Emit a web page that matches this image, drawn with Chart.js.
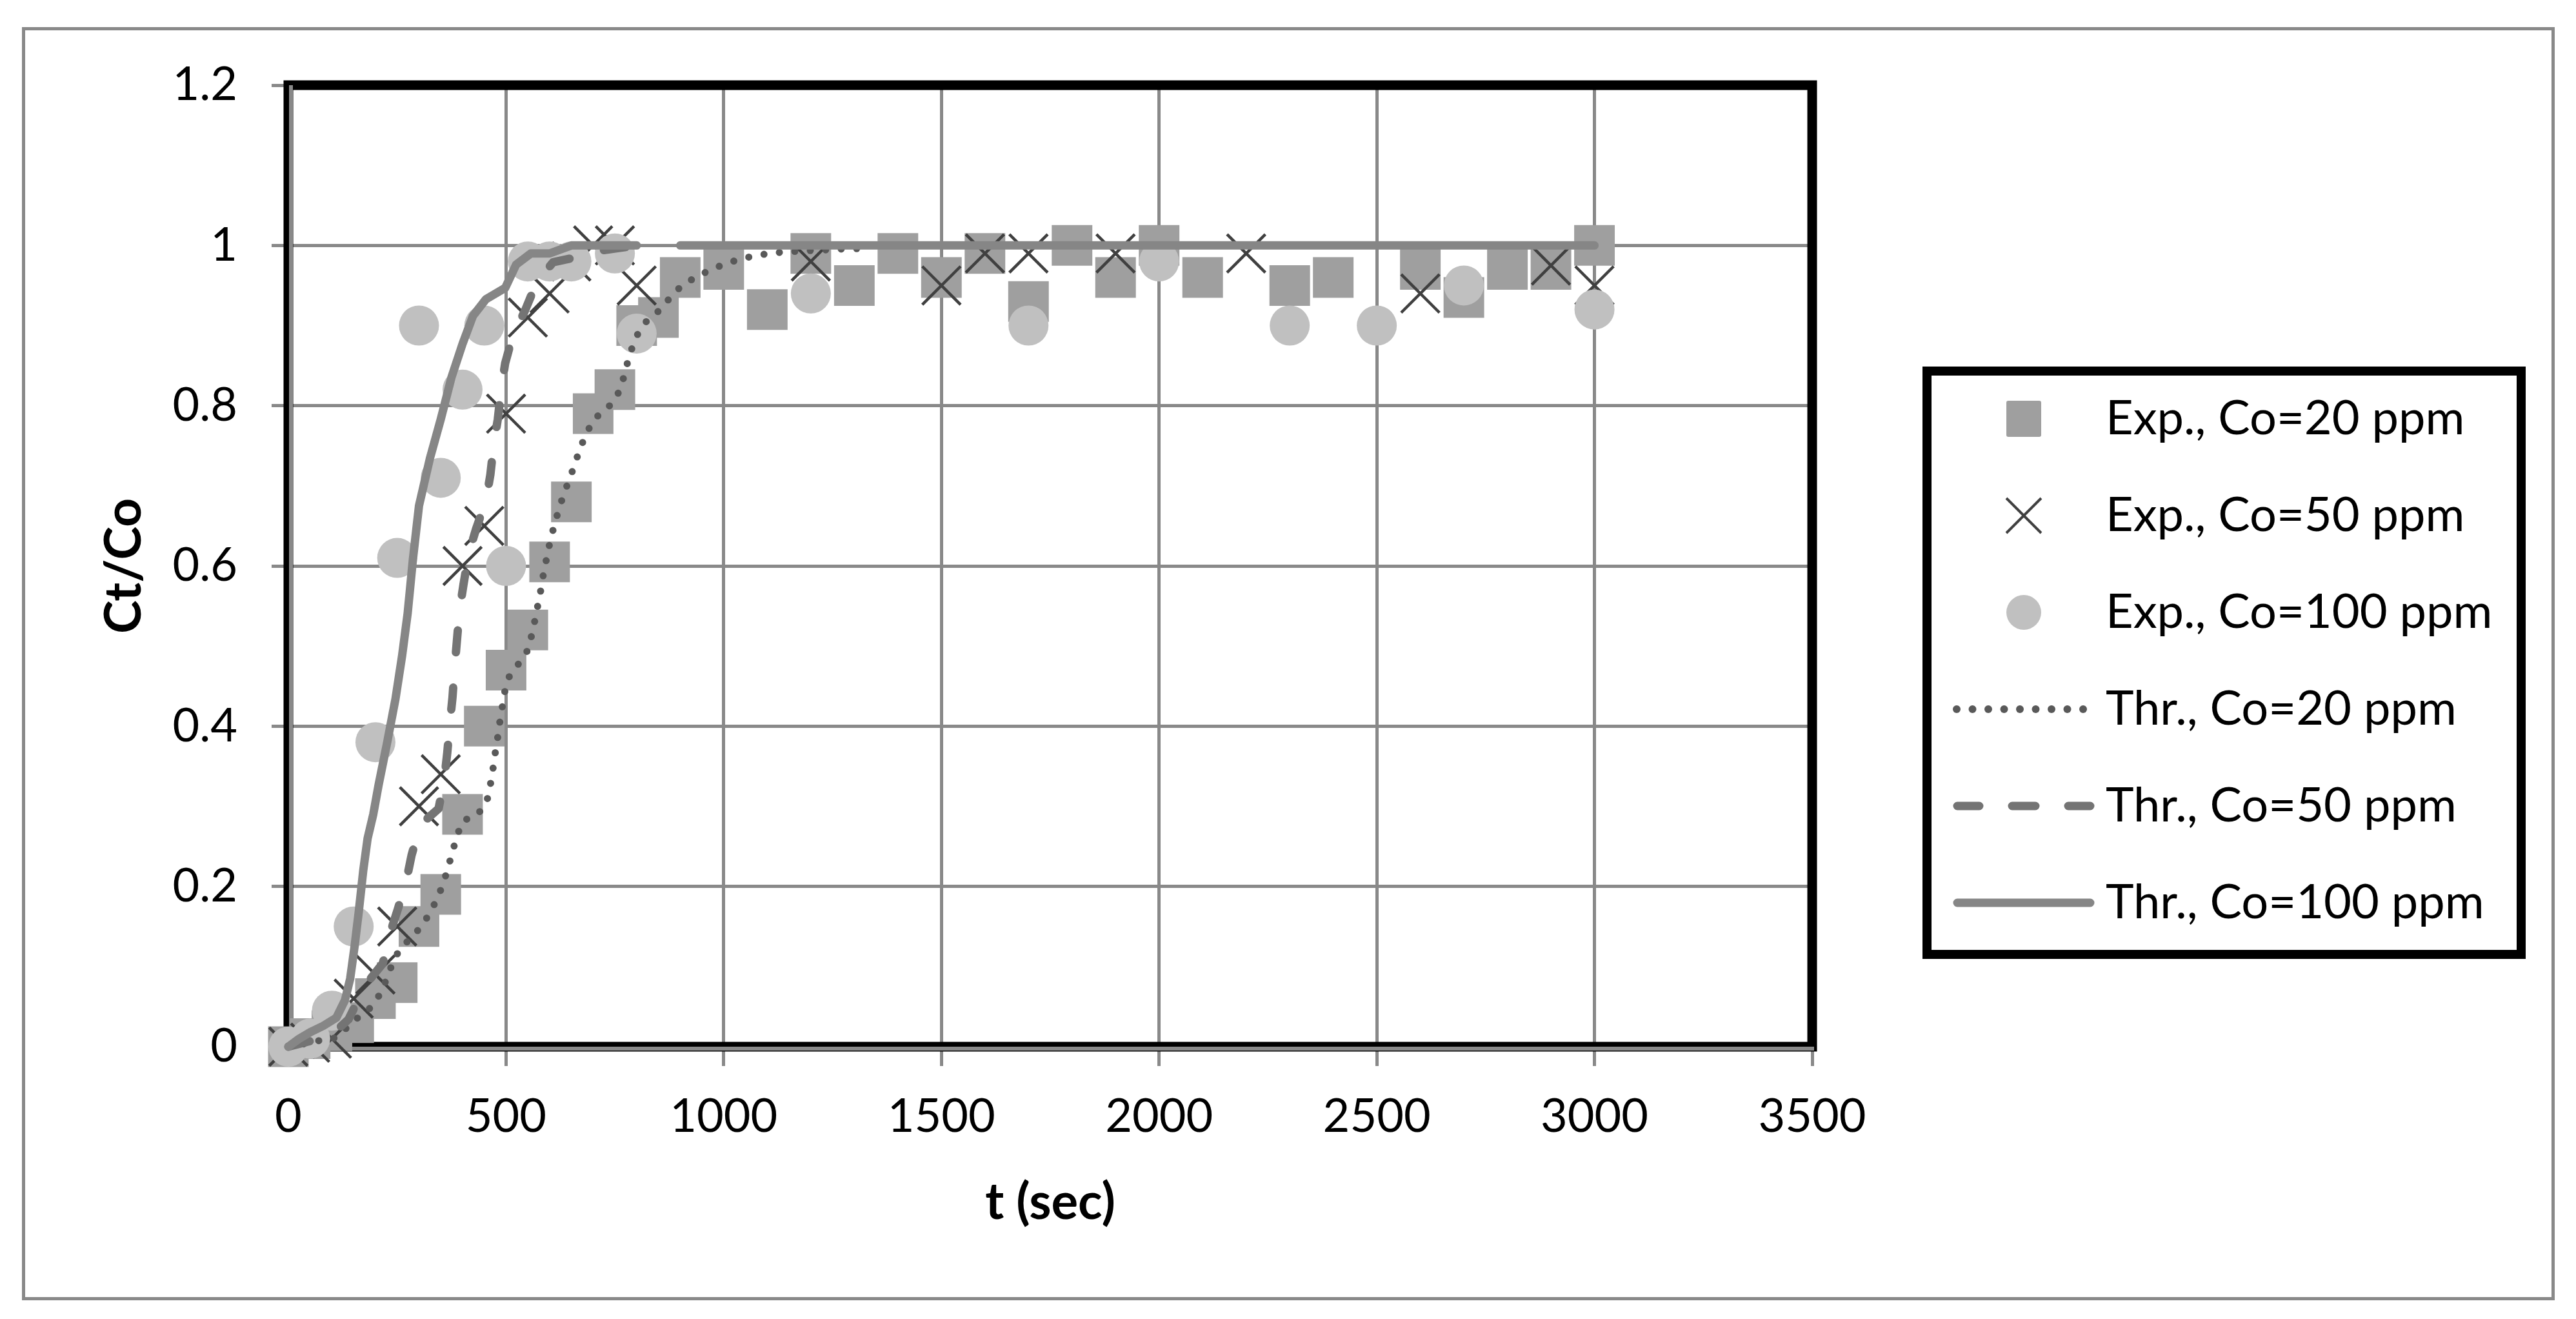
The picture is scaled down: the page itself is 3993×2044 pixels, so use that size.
<!DOCTYPE html>
<html>
<head>
<meta charset="utf-8">
<script src="https://cdn.jsdelivr.net/npm/chart.js@4.4.1/dist/chart.umd.min.js"></script>
<style>
html,body{margin:0;padding:0;background:#ffffff;}
canvas{display:block;}
</style>
</head>
<body>
<canvas id="chart" width="3993" height="2044"></canvas>
<script>
// ---------------- data ----------------
const seriesNames = ['Exp., Co=20 ppm', 'Exp., Co=50 ppm', 'Exp., Co=100 ppm',
                     'Thr., Co=20 ppm', 'Thr., Co=50 ppm', 'Thr., Co=100 ppm'];
const xTickLabels = ['0', '500', '1000', '1500', '2000', '2500', '3000', '3500'];
const yTickLabels = ['0', '0.2', '0.4', '0.6', '0.8', '1', '1.2'];
const xTitle = 't (sec)';
const yTitle = 'Ct/Co';

const tExp20 = [0, 50, 100, 150, 200, 250, 300, 350, 400, 450, 500, 550, 600, 650, 700, 750, 800, 850, 900, 1000, 1100, 1200, 1300, 1400, 1500, 1600, 1700, 1800, 1900, 2000, 2100, 2300, 2400, 2600, 2700, 2800, 2900, 3000];
const cExp20 = [0, 0.01, 0.02, 0.03, 0.06, 0.08, 0.15, 0.19, 0.29, 0.40, 0.47, 0.52, 0.605, 0.68, 0.79, 0.82, 0.90, 0.91, 0.96, 0.97, 0.92, 0.99, 0.95, 0.99, 0.96, 0.99, 0.93, 1.0, 0.96, 1.0, 0.96, 0.95, 0.96, 0.97, 0.935, 0.97, 0.97, 1.0];

const tExp50 = [0, 50, 100, 150, 200, 250, 300, 350, 400, 450, 500, 550, 600, 650, 700, 750, 800, 1200, 1500, 1600, 1700, 1900, 2200, 2600, 2900, 3000];
const cExp50 = [0, 0.005, 0.01, 0.06, 0.09, 0.15, 0.30, 0.34, 0.60, 0.65, 0.79, 0.91, 0.94, 0.98, 1.0, 1.0, 0.95, 0.98, 0.95, 0.99, 0.99, 0.99, 0.99, 0.94, 0.975, 0.95];

const tExp100 = [0, 50, 100, 150, 200, 250, 300, 350, 400, 450, 500, 550, 600, 650, 750, 800, 1200, 1700, 2000, 2300, 2500, 2700, 3000];
const cExp100 = [0, 0.01, 0.045, 0.15, 0.38, 0.61, 0.90, 0.71, 0.82, 0.90, 0.60, 0.98, 0.98, 0.98, 0.99, 0.89, 0.94, 0.90, 0.98, 0.90, 0.90, 0.95, 0.92];

const tThr20 = [0, 40, 74, 108, 135, 163, 192, 212, 226, 239, 256, 282, 307, 326, 343, 356, 367, 377, 387, 401, 433, 455, 463, 469, 474, 480, 485, 491, 497, 508, 529, 550, 559, 567, 574, 581, 587, 595, 602, 612, 622, 634, 647, 659, 671, 686, 703, 732, 755, 768, 777, 788, 801, 822, 850, 874, 900, 931, 964, 998, 1032, 1069, 1105, 1142, 1179, 1216, 1253, 1290, 1327];
const cThr20 = [0, 0.004, 0.008, 0.011, 0.024, 0.038, 0.05, 0.067, 0.085, 0.104, 0.122, 0.136, 0.151, 0.168, 0.186, 0.204, 0.224, 0.243, 0.263, 0.282, 0.289, 0.304, 0.324, 0.343, 0.363, 0.383, 0.403, 0.423, 0.443, 0.463, 0.478, 0.495, 0.514, 0.534, 0.554, 0.573, 0.594, 0.614, 0.633, 0.653, 0.672, 0.692, 0.71, 0.729, 0.748, 0.767, 0.784, 0.796, 0.812, 0.831, 0.85, 0.87, 0.888, 0.905, 0.918, 0.933, 0.948, 0.959, 0.968, 0.976, 0.982, 0.987, 0.99, 0.992, 0.993, 0.994, 0.995, 0.996, 0.996];

const tThr50 = [0, 50, 100, 138, 177, 217, 232, 251, 271, 283, 303, 345, 358, 365, 371, 377, 382, 387, 393, 402, 414, 431, 454, 464, 472, 481, 489, 498, 516, 543, 571, 608, 676, 722, 800];
const cThr50 = [0, 0.007, 0.015, 0.034, 0.077, 0.104, 0.139, 0.171, 0.207, 0.239, 0.277, 0.297, 0.333, 0.367, 0.404, 0.436, 0.474, 0.506, 0.544, 0.576, 0.615, 0.646, 0.682, 0.714, 0.753, 0.783, 0.822, 0.853, 0.889, 0.918, 0.955, 0.979, 0.987, 0.994, 1.0];

const tThr100 = [0, 25, 50, 80, 110, 130, 142, 152, 162, 172, 182, 195, 207, 227, 246, 261, 274, 286, 300, 325, 350, 375, 400, 424, 454, 498, 523, 557, 600, 650, 700, 800, 850, 900, 3000];
const cThr100 = [0, 0.01, 0.018, 0.026, 0.036, 0.058, 0.085, 0.125, 0.17, 0.22, 0.26, 0.29, 0.326, 0.38, 0.434, 0.487, 0.541, 0.608, 0.675, 0.734, 0.783, 0.836, 0.877, 0.912, 0.933, 0.947, 0.976, 0.99, 0.99, 1.0, 1.0, 1.0, null, 1.0, 1.0];

// ---------------- styling ----------------
const FONT = 'Lato';
const TICK_FS = 72, TITLE_FS = 78, LEG_FS = 74;
const LEG_PAD = 150 - LEG_FS;
const GRID = '#898989';

const pts = (t, c) => t.map((x, i) => ({ x: x, y: c[i] }));

function makeIcon(draw) {
  const cv = document.createElement('canvas');
  cv.width = 230; cv.height = 80;
  const g = cv.getContext('2d');
  g.translate(115, 40);
  draw(g);
  return cv;
}
const legendIcons = [
  makeIcon(g => { g.fillStyle = '#9f9f9f'; g.beginPath(); g.roundRect(-27, -28, 54, 56, 3); g.fill(); }),
  makeIcon(g => { g.strokeStyle = '#404040'; g.lineWidth = 4; g.beginPath(); g.moveTo(-27, -27); g.lineTo(27, 27); g.moveTo(-27, 27); g.lineTo(27, -27); g.stroke(); }),
  makeIcon(g => { g.fillStyle = '#c0c0c0'; g.beginPath(); g.arc(0, 0, 27, 0, Math.PI * 2); g.fill(); }),
  makeIcon(g => { g.fillStyle = '#595959'; for (let i = 0; i < 9; i++) { g.beginPath(); g.arc(-104 + i * 24.5, 0, 6, 0, Math.PI * 2); g.fill(); } }),
  makeIcon(g => { g.strokeStyle = '#747474'; g.lineWidth = 13; g.lineCap = 'round'; g.beginPath();
    [[-103, -69], [-18, 18], [69, 103]].forEach(s => { g.moveTo(s[0], 0); g.lineTo(s[1], 0); }); g.stroke(); }),
  makeIcon(g => { g.strokeStyle = '#868686'; g.lineWidth = 13; g.lineCap = 'round'; g.beginPath(); g.moveTo(-103, 0); g.lineTo(103, 0); g.stroke(); })
];

const frames = {
  id: 'frames',
  afterInit(chart) {
    const lg = chart.legend;
    const fit = lg.fit;
    lg.fit = function () { fit.call(this); if (!this.isHorizontal()) { this.width = 3993 - 2809; } };
  },
  afterLayout(chart) {
    const lg = chart.legend;
    const y0 = 649 - LEG_FS / 2;
    const B = 1600;
    const T = 2 * y0 - LEG_PAD + 6 * 150 - B;
    lg.left = 3047 - LEG_PAD;
    lg.right = lg.left + 900;
    lg.top = T;
    lg.bottom = B;
  },
  beforeDraw(chart) {
    const ctx = chart.ctx;
    ctx.save();
    ctx.fillStyle = '#ffffff';
    ctx.fillRect(0, 0, chart.width, chart.height);
    ctx.strokeStyle = GRID;
    ctx.lineWidth = 5;
    ctx.strokeRect(36.5, 44.5, 3921, 1968);
    ctx.restore();
  },
  beforeDatasetsDraw(chart) {
    const ctx = chart.ctx;
    const a = chart.chartArea;
    ctx.save();
    ctx.strokeStyle = '#000000';
    ctx.lineWidth = 15;
    ctx.strokeRect(a.left, a.top, a.right - a.left, a.bottom - a.top);
    ctx.strokeStyle = GRID;
    ctx.lineWidth = 6;
    ctx.beginPath();
    ctx.moveTo(a.left + 4, a.top);
    ctx.lineTo(a.left + 4, a.bottom + 6);
    ctx.moveTo(a.left - 3, a.bottom + 3);
    ctx.lineTo(a.right + 3, a.bottom + 3);
    ctx.stroke();
    ctx.restore();
  },
  afterDraw(chart) {
    const ctx = chart.ctx;
    ctx.save();
    ctx.strokeStyle = '#000000';
    ctx.lineWidth = 14;
    ctx.strokeRect(2987, 575, 921, 904);
    ctx.restore();
  }
};

const lineBase = { showLine: true, pointRadius: 0, pointHoverRadius: 0, borderWidth: 13, borderCapStyle: 'round', borderJoinStyle: 'round', tension: 0, spanGaps: false, clip: false, fill: false };

new Chart(document.getElementById('chart').getContext('2d'), {
  type: 'scatter',
  data: {
    datasets: [
      { label: seriesNames[0], data: pts(tExp20, cExp20), showLine: false, pointStyle: 'rect', pointRadius: 44.5, pointHoverRadius: 44.5,
        backgroundColor: '#9f9f9f', borderColor: '#9f9f9f', pointBorderWidth: 0, order: 6, clip: false },
      { label: seriesNames[1], data: pts(tExp50, cExp50), showLine: false, pointStyle: 'crossRot', pointRadius: 42, pointHoverRadius: 42,
        backgroundColor: 'rgba(0,0,0,0)', borderColor: '#404040', pointBorderColor: '#404040', pointBorderWidth: 4.5, order: 5, clip: false },
      { label: seriesNames[2], data: pts(tExp100, cExp100), showLine: false, pointStyle: 'circle', pointRadius: 31, pointHoverRadius: 31,
        backgroundColor: '#c0c0c0', borderColor: '#c0c0c0', pointBorderWidth: 0, order: 4, clip: false },
      Object.assign({ label: seriesNames[3], data: pts(tThr20, cThr20), borderColor: '#595959', backgroundColor: '#595959', borderWidth: 11, borderDash: [0, 24], order: 3 }, {}),
      { label: seriesNames[4], data: pts(tThr50, cThr50), borderColor: '#747474', backgroundColor: '#747474', borderDash: [34, 55], order: 2 },
      { label: seriesNames[5], data: pts(tThr100, cThr100), borderColor: '#868686', backgroundColor: '#868686', order: 1 }
    ].map((d, i) => i >= 3 ? Object.assign({}, lineBase, d) : d)
  },
  options: {
    responsive: false,
    animation: false,
    devicePixelRatio: 1,
    events: [],
    layout: { autoPadding: false, padding: { left: 0, right: 0, top: 132, bottom: 0 } },
    scales: {
      x: {
        type: 'linear', min: 0, max: 3500,
        ticks: { stepSize: 500, autoSkip: false, maxRotation: 0, padding: 36, color: '#000000',
                 font: { family: FONT, size: TICK_FS },
                 callback: (v, i) => xTickLabels[i] !== undefined ? xTickLabels[i] : String(v) },
        grid: { color: GRID, lineWidth: 5, tickLength: 30, drawTicks: true },
        border: { display: false },
        title: { display: true, text: xTitle, color: '#000000', font: { family: FONT, size: TITLE_FS, weight: 'bold' }, padding: { top: 0, bottom: 133 } },
        afterFit: (s) => { s.height = 2044 - 1622; }
      },
      y: {
        type: 'linear', min: 0, max: 1.2,
        ticks: { stepSize: 0.2, padding: 53, color: '#000000', font: { family: FONT, size: TICK_FS },
                 callback: (v, i) => yTickLabels[i] !== undefined ? yTickLabels[i] : String(v) },
        grid: { color: GRID, lineWidth: 5, tickLength: 26, drawTicks: true },
        border: { display: false },
        title: { display: true, text: yTitle, color: '#000000', font: { family: FONT, size: TITLE_FS, weight: 'bold' }, padding: { top: 146, bottom: 0 } },
        afterFit: (s) => { s.width = 447; }
      }
    },
    plugins: {
      tooltip: { enabled: false },
      legend: {
        display: true,
        position: 'right',
        align: 'center',
        labels: {
          usePointStyle: true,
          pointStyleWidth: 180,
          boxHeight: LEG_FS,
          padding: LEG_PAD,
          color: '#000000',
          font: { family: FONT, size: LEG_FS },
          sort: (a, b) => a.datasetIndex - b.datasetIndex,
          generateLabels: (chart) => {
            const items = Chart.defaults.plugins.legend.labels.generateLabels(chart);
            items.forEach(it => { it.pointStyle = legendIcons[it.datasetIndex]; it.fontColor = '#000000'; it.hidden = false; });
            return items;
          }
        }
      }
    }
  },
  plugins: [frames]
});
</script>
</body>
</html>
